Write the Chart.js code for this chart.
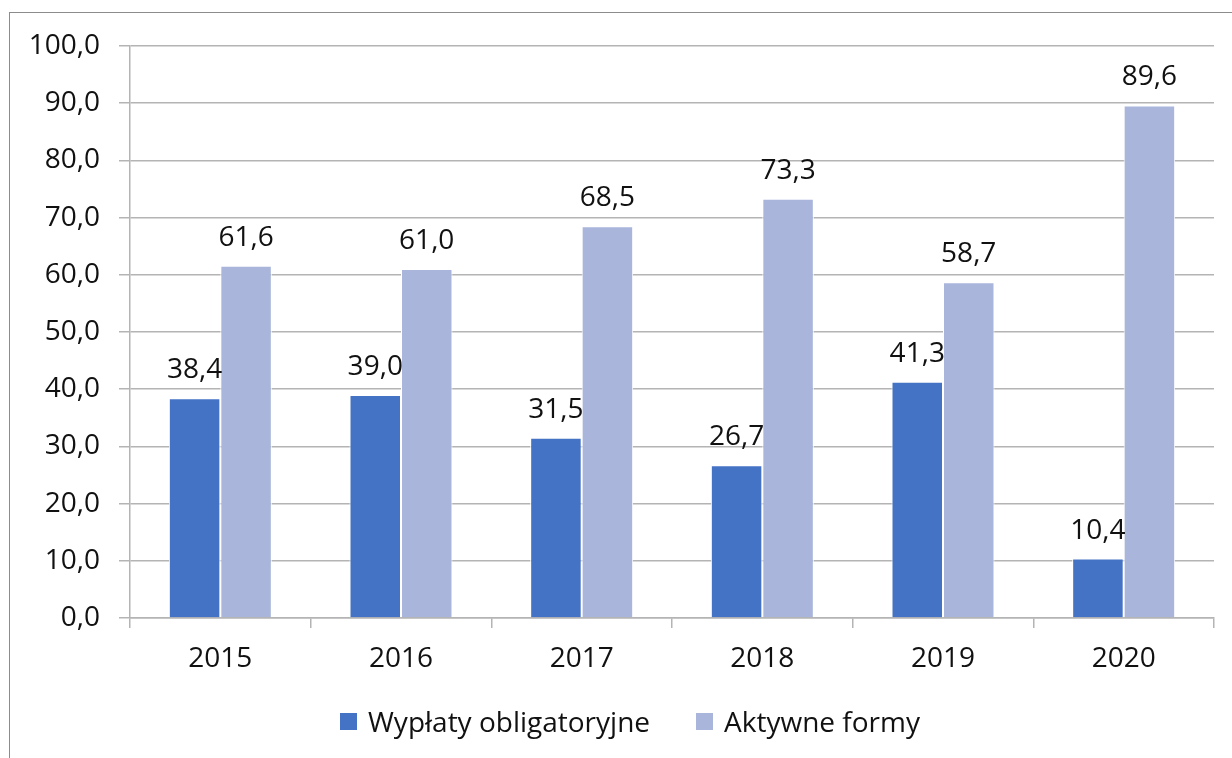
<!DOCTYPE html>
<html>
<head>
<meta charset="utf-8">
<script src="https://cdn.jsdelivr.net/npm/chart.js@4"></script>
<style>
    html, body { margin: 0; padding: 0; background: #fff; overflow: hidden; }
    #wrap { position: relative; width: 1232px; height: 758px; }
    #frame {
        position: absolute; left: 9px; top: 12px; width: 1240px; height: 760px;
        border: 1.5px solid #8c8c8c; box-sizing: border-box;
    }
    #chartBox { position: absolute; left: 0; top: 0; width: 1232px; height: 758px; }
    #legend {
        position: absolute; left: 340px; top: 702px; display: flex; align-items: center;
        font-family: 'Open Sans', sans-serif; font-size: 28px; color: #111;
    }
    .item { display: flex; align-items: center; margin-right: 46px; }
    .swatch { width: 17px; height: 17px; margin-right: 11px; }
</style>
</head>
<body>
<div id="wrap">
    <div id="frame"></div>
    <div id="chartBox"><canvas id="payChart"></canvas></div>
    <div id="legend"></div>
</div>
<script>
// Data
const years = ['2015', '2016', '2017', '2018', '2019', '2020'];
const obligatory = [38.4, 39.0, 31.5, 26.7, 41.3, 10.4];
const active = [61.6, 61.0, 68.5, 73.3, 58.7, 89.6];
const seriesNames = ['Wypłaty obligatoryjne', 'Aktywne formy'];

const colors = ['#4472C4', '#A9B5DB'];
const fontFamily = "'Open Sans', sans-serif";
const fmt = v => v.toFixed(1).replace('.', ',');

// value labels above each bar
const valueLabels = {
    id: 'valueLabels',
    afterDatasetsDraw(chart) {
        const ctx = chart.ctx;
        ctx.save();
        ctx.font = '28px ' + fontFamily;
        ctx.fillStyle = '#111';
        ctx.textAlign = 'center';
        ctx.textBaseline = 'alphabetic';
        chart.data.datasets.forEach((ds, i) => {
            chart.getDatasetMeta(i).data.forEach((bar, j) => {
                ctx.fillText(fmt(ds.data[j]), bar.x, bar.y - 20);
            });
        });
        ctx.restore();
    }
};

document.addEventListener('DOMContentLoaded', () => {
    const ctx = document.getElementById('payChart').getContext('2d');

    new Chart(ctx, {
        type: 'bar',
        data: {
            labels: years,
            datasets: [
                { label: seriesNames[0], data: obligatory, backgroundColor: colors[0] },
                { label: seriesNames[1], data: active, backgroundColor: colors[1] }
            ]
        },
        options: {
            responsive: true,
            maintainAspectRatio: false,
            animation: false,
            datasets: {
                bar: {
                    categoryPercentage: 0.57,
                    barPercentage: 1.0,
                    borderColor: '#ffffff',
                    borderWidth: 1
                }
            },
            layout: { padding: { top: 46, right: 18, bottom: 78, left: 0 } },
            plugins: {
                legend: { display: false },
                tooltip: { enabled: false }
            },
            scales: {
                x: {
                    afterFit: s => { s.height = 62; },
                    grid: {
                        drawOnChartArea: false,
                        drawTicks: true,
                        tickLength: 10,
                        color: '#b4b4b4',
                        lineWidth: 1.5
                    },
                    border: { color: '#b4b4b4', width: 1.5 },
                    ticks: {
                        padding: 14,
                        color: '#111',
                        font: { family: fontFamily, size: 28 }
                    }
                },
                y: {
                    min: 0,
                    max: 100,
                    afterFit: s => { s.width = 130; },
                    grid: {
                        color: '#b4b4b4',
                        lineWidth: 1.5,
                        tickLength: 11
                    },
                    border: { color: '#b4b4b4', width: 1.5 },
                    ticks: {
                        stepSize: 10,
                        padding: 19,
                        color: '#111',
                        font: { family: fontFamily, size: 28 },
                        callback: v => fmt(v)
                    }
                }
            }
        },
        plugins: [valueLabels]
    });

    // legend as html
    const legend = document.getElementById('legend');
    seriesNames.forEach((name, i) => {
        const item = document.createElement('div');
        item.className = 'item';
        item.innerHTML = '<span class="swatch" style="background:' + colors[i] + '"></span><span>' + name + '</span>';
        legend.appendChild(item);
    });
});
</script>
</body>
</html>
